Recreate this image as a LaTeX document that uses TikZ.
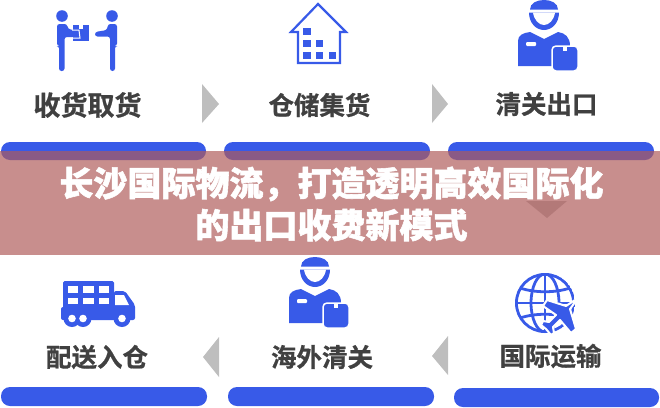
\documentclass[tikz,border=0pt]{standalone}
\usepackage{fontspec}
\setmainfont{Noto Sans CJK SC}
\newfontfamily\cjkblack[FakeBold=1.6]{Noto Sans CJK SC Black}
\newfontfamily\cjkbold[FakeBold=0.7]{Noto Sans CJK SC Bold}
\usepackage{tikz}
\definecolor{iconblue}{RGB}{56,90,232}
\definecolor{labelgray}{RGB}{64,64,64}
\definecolor{pointergray}{RGB}{190,190,190}
\definecolor{bandred}{RGB}{175,91,90}
\tikzset{
  bar/.style={fill=iconblue, rounded corners=9pt},
  pointer/.style={fill=pointergray},
  icon/.style={fill=iconblue},
  hole/.style={fill=white},
  gridline/.style={draw=iconblue, line width=2.8pt},
  stagelabel/.style={font=\fontsize{25.5}{30}\selectfont\cjkbold, text=labelgray, inner sep=0pt},
  title/.style={font=\fontsize{34}{42}\selectfont\cjkblack, text=white, align=center, inner sep=0pt},
  courier/.pic={
    \fill[icon] (-14,-3.5) .. controls (-14,-10) and (-7,-13) .. (0,-13) .. controls (7,-13) and (14,-10) .. (14,-3.5) -- cycle;
    \fill[icon] (-15,-0.5) .. controls (-15,10) and (-8,17) .. (0,17) .. controls (8,17) and (15,10) .. (15,-0.5) -- cycle;
    \fill[hole] (-11,-0.5) .. controls (-10,7) and (-5,12) .. (0,12) .. controls (5,12) and (10,7) .. (11,-0.5) -- cycle;
    \fill[icon] (-26,53) -- (-26,28) .. controls (-26,22) and (-21,20) .. (-14,19) -- (0,26) -- (14,19) .. controls (21,20) and (26,24) .. (26,33) -- (26,53) -- cycle;
    \fill[hole, rounded corners=1pt] (-18,29) rectangle (-8,33);
    \fill[icon, draw=white, line width=1.5pt, rounded corners=4pt] (8,33) rectangle (34,58);
    \fill[hole] (19,33) rectangle (23,38);
  }
}

\begin{document}
\begin{tikzpicture}[x=1pt,y=-1pt]
  \useasboundingbox (0,0) rectangle (660,407);

  % top row
  \fill[icon] (62,16) circle (5.8);
  \fill[icon, rounded corners=2.5pt] (57,24) -- (67,24) -- (68,29) -- (79,31) -- (79,37) -- (64.5,37) -- (64.5,71) -- (59,71) -- (59,46) -- (57,46) -- cycle;
  \fill[icon] (73,25) rectangle (89,41);
  \fill[hole] (79,25) rectangle (83,29);
  \draw[white, line width=1pt] (72,30) -- (79,30) -- (80,38) -- (72,38);
  \fill[icon] (112,16) circle (5.8);
  \fill[icon, rounded corners=2.5pt] (117,24) -- (108,24) -- (107,30) -- (95,32) -- (95,36.5) -- (110,36.5) -- (110,71) -- (115,71) -- (115,46) -- (117,46) -- cycle;
  \node[stagelabel, font=\fontsize{27}{30}\selectfont\cjkbold] (collect) at (87.5,105) {收货取货};
  \fill[pointer] (202,84) -- (219,104) -- (202,123) -- cycle;

  \draw[iconblue, line width=2.2pt, line join=miter] (298,63) -- (298,32) -- (291,32) -- (318,4) -- (346,32) -- (340,32) -- (340,63) -- cycle;
  \fill[icon] (303,28) rectangle (311,35);
  \fill[icon] (303,40) rectangle (311,47);
  \fill[icon] (316,40) rectangle (323,47);
  \fill[icon] (303,52) rectangle (311,59);
  \fill[icon] (316,52) rectangle (323,59);
  \fill[icon] (329,52) rectangle (336,59);
  \node[stagelabel] (store) at (319.5,105) {仓储集货};
  \fill[pointer] (432,84) -- (448,104) -- (432,123) -- cycle;

  \pic at (544,13) {courier};
  \node[stagelabel] (clear) at (546.5,104) {清关出口};

  \fill[bar] (1,142) rectangle (206,160);
  \fill[bar] (224,142) rectangle (430,160);
  \fill[bar] (448,142) rectangle (654,160);
  \fill[pointer] (526,201) -- (567,201) -- (547,218) -- cycle;

  % bottom row
  \fill[icon, rounded corners=1.5pt] (63,281) rectangle (114,310);
  \fill[icon, rounded corners=2pt] (114,291) -- (125,291) -- (135,305) -- (135,320) -- (61,320) -- (61,307) -- (114,307) -- cycle;
  \foreach \x/\w in {68/10,83/11,99/10}{
    \fill[hole] (\x,286) rectangle (\x+\w,293);
    \fill[hole] (\x,298) rectangle (\x+\w,304);
  }
  \fill[hole] (115,295) -- (124,295) -- (129,305) -- (115,305) -- cycle;
  \foreach \x in {72,83,122}{
    \fill[icon] (\x,318.5) circle (8.5);
  }
  \foreach \x in {72,83,122}{
    \fill[hole] (\x,318.5) circle (3.8);
  }
  \node[stagelabel] (deliver) at (97,357) {配送入仓};
  \fill[pointer] (219,337) -- (203,357) -- (219,377) -- cycle;

  \pic at (315,270) {courier};
  \node[stagelabel] (overseas) at (322,357) {海外清关};
  \fill[pointer] (448,336) -- (432,356) -- (448,375) -- cycle;

  \begin{scope}
    \clip (545,303) circle (30);
    \draw[gridline] (545,303) circle (28.6);
    \draw[gridline] (545,303) ellipse (14 and 29);
    \draw[gridline] (545,273) -- (545,333);
    \draw[gridline] (515,303) -- (575,303);
    \draw[gridline] (520,288) .. controls (535,293) and (555,293) .. (570,288);
    \draw[gridline] (520,318) .. controls (535,313) and (555,313) .. (570,318);
  \end{scope}
  \fill[icon, draw=white, line width=2pt, line join=round] (578,298) -- (570,309) -- (576,329) -- (571,333) -- (560,320) -- (553,327) -- (554,333) -- (551,335) -- (546,329) -- (541,325) -- (543,321) -- (549,322) -- (556,315) -- (543,306) -- (547,300) -- (566,306) -- cycle;
  \node[stagelabel] (ship) at (550.5,356) {国际运输};

  \fill[bar] (1,387) rectangle (207,406);
  \fill[bar] (228,387) rectangle (434,406);
  \fill[bar] (454,388) rectangle (659,407);

  % overlay band
  \fill[bandred, opacity=0.69] (0,151) rectangle (660,255);
  \node[title] (headline) at (331.5,204) {长沙国际物流，打造透明高效国际化\\的出口收费新模式};
\end{tikzpicture}
\end{document}
